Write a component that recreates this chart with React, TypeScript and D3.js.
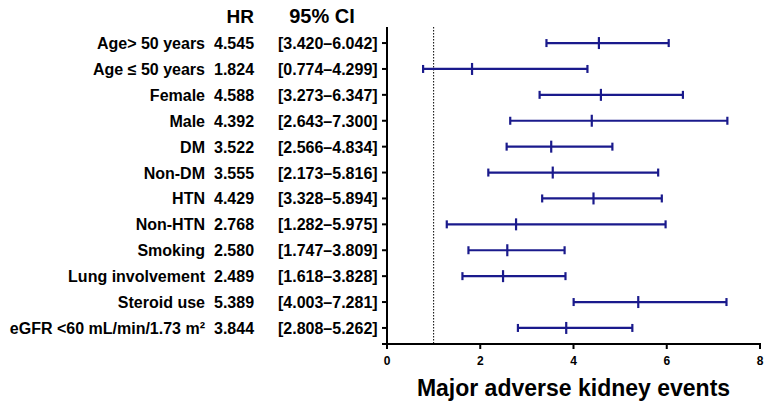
import React, { useEffect, useRef } from 'react';
import * as d3 from 'd3';

// subgroup rows, top to bottom
const labels = [
  'Age> 50 years',
  'Age \u2264 50 years',
  'Female',
  'Male',
  'DM',
  'Non-DM',
  'HTN',
  'Non-HTN',
  'Smoking',
  'Lung involvement',
  'Steroid use',
  'eGFR <60 mL/min/1.73 m\u00b2',
];
const hr = [4.545, 1.824, 4.588, 4.392, 3.522, 3.555, 4.429, 2.768, 2.58, 2.489, 5.389, 3.844];
const ciLow = [3.42, 0.774, 3.273, 2.643, 2.566, 2.173, 3.328, 1.282, 1.747, 1.618, 4.003, 2.808];
const ciHigh = [6.042, 4.299, 6.347, 7.3, 4.834, 5.816, 5.894, 5.975, 3.809, 3.828, 7.281, 5.262];
const xTicks = [0, 2, 4, 6, 8];
const refLine = 1;
const xTitle = 'Major adverse kidney events';

const W = 769;
const H = 408;
const NAVY = '#1a1a8c';
const FONT = '"Liberation Sans", Arial, sans-serif';

const App = () => {
  const ref = useRef<SVGSVGElement>(null);

  useEffect(() => {
    const svg = d3.select(ref.current);
    svg.selectAll('*').remove();

    const x = d3.scaleLinear().domain([0, 8]).range([387, 760]);
    const y = d3
      .scalePoint<number>()
      .domain(labels.map((_, i) => i))
      .range([27, 344])
      .padding(0.62);
    const yTop = 27;
    const yBot = 344;

    // headers
    svg.append('text').attr('x', 254).attr('y', 23).attr('text-anchor', 'end')
      .style('font', `bold 19px ${FONT}`).text('HR');
    svg.append('text').attr('x', 322).attr('y', 23).attr('text-anchor', 'middle')
      .style('font', `bold 20px ${FONT}`).text('95% CI');

    const rows = svg.append('g').style('font', `bold 16px ${FONT}`).attr('fill', '#000');
    labels.forEach((lab, i) => {
      const yy = (y(i) as number) + 6;
      rows.append('text').attr('x', 205).attr('y', yy).attr('text-anchor', 'end').text(lab);
      rows.append('text').attr('x', 214).attr('y', yy).text(hr[i].toFixed(3));
      rows.append('text').attr('x', 278).attr('y', yy)
        .text(`[${ciLow[i].toFixed(3)}\u2013${ciHigh[i].toFixed(3)}]`);
    });

    // reference line at HR = 1
    svg.append('line')
      .attr('x1', x(refLine)).attr('x2', x(refLine))
      .attr('y1', yTop).attr('y2', yBot)
      .attr('stroke', '#000').attr('stroke-width', 1)
      .attr('stroke-dasharray', '1.5,1.5');

    // axes
    const ax = svg.append('g');
    ax.append('line').attr('x1', x(0)).attr('x2', x(0)).attr('y1', yTop).attr('y2', yBot + 1)
      .attr('stroke', '#000').attr('stroke-width', 2);
    ax.append('line').attr('x1', x(0) - 1).attr('x2', x(8) + 1).attr('y1', yBot).attr('y2', yBot)
      .attr('stroke', '#000').attr('stroke-width', 2);
    labels.forEach((_, i) => {
      ax.append('line').attr('x1', x(0) - 5).attr('x2', x(0)).attr('y1', y(i) as number).attr('y2', y(i) as number)
        .attr('stroke', '#000').attr('stroke-width', 2);
    });
    ax.append('line').attr('x1', x(0) - 5).attr('x2', x(0)).attr('y1', yBot).attr('y2', yBot)
      .attr('stroke', '#000').attr('stroke-width', 2);
    xTicks.forEach((t) => {
      ax.append('line').attr('x1', x(t)).attr('x2', x(t)).attr('y1', yBot).attr('y2', yBot + 5)
        .attr('stroke', '#000').attr('stroke-width', 2);
      ax.append('text').attr('x', x(t)).attr('y', 365).attr('text-anchor', 'middle')
        .style('font', `bold 12px ${FONT}`).text(String(t));
    });

    // error bars
    const bars = svg.append('g').attr('stroke', NAVY).attr('stroke-width', 2.2);
    labels.forEach((_, i) => {
      const yy = y(i) as number;
      bars.append('line').attr('x1', x(ciLow[i])).attr('x2', x(ciHigh[i])).attr('y1', yy).attr('y2', yy);
      bars.append('line').attr('x1', x(ciLow[i])).attr('x2', x(ciLow[i])).attr('y1', yy - 4).attr('y2', yy + 4);
      bars.append('line').attr('x1', x(ciHigh[i])).attr('x2', x(ciHigh[i])).attr('y1', yy - 4).attr('y2', yy + 4);
      bars.append('line').attr('x1', x(hr[i])).attr('x2', x(hr[i])).attr('y1', yy - 6).attr('y2', yy + 6);
    });

    svg.append('text').attr('x', x(4)).attr('y', 396).attr('text-anchor', 'middle')
      .style('font', `bold 23px ${FONT}`).text(xTitle);
  }, []);

  return (
    <svg
      ref={ref}
      width={W}
      height={H}
      style={{ position: 'absolute', left: 0, top: 0, background: '#fff' }}
    />
  );
};

export default App;
